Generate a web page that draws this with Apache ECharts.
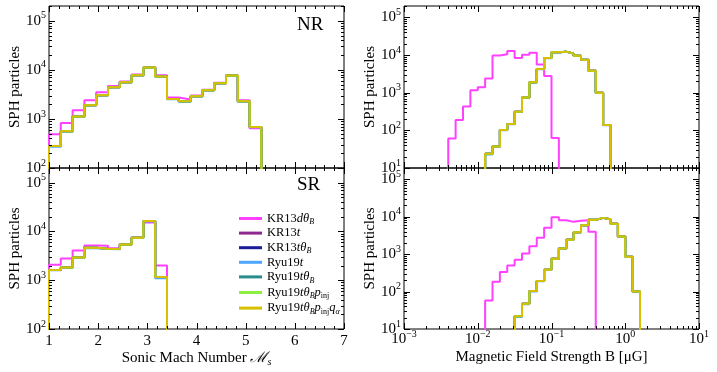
<!DOCTYPE html>
<html>
<head>
<meta charset="utf-8">
<script src="https://cdn.jsdelivr.net/npm/echarts@6/dist/echarts.min.js"></script>
<style>html,body{margin:0;padding:0;background:#fff}#main{width:717px;height:372px}</style>
</head>
<body>
<div id="main"></div>
<script>
// model names, same order as the legend
let modelNames = ['KR13dθB', 'KR13t', 'KR13tθB', 'Ryu19t', 'Ryu19tθB', 'Ryu19tθBpinj', 'Ryu19tθBpinjqα']
let modelColors = ['#ff40ff', '#8e2a8e', '#1c1c96', '#4da6ff', '#2a8c8c', '#8cf040', '#d8c000']

// Mach number histograms (bin edges, counts)
let machEdgesNR = [1, 1.24, 1.48, 1.72, 1.96, 2.2, 2.44, 2.68, 2.92, 3.16, 3.4, 3.64, 3.88, 4.12, 4.36, 4.6, 4.84, 5.08, 5.32]
let machNR_KR13d = [486, 828, 1503, 2404, 3500, 4710, 5800, 8000, 11200, 7780, 2730, 2490, 3000, 3950, 5450, 7700, 2400, 646]
let machNR_base = [281, 560, 1117, 1900, 3040, 4430, 5600, 7780, 11170, 7300, 2560, 2300, 2900, 3850, 5350, 7660, 2300, 687]
let machNR_Ryu19t = [272, 550, 1100, 1880, 3000, 4400, 5550, 7700, 11000, 7200, 2520, 2220, 2850, 3800, 5300, 7600, 2250, 680]

let machEdgesSR = [1, 1.24, 1.48, 1.72, 1.96, 2.2, 2.44, 2.68, 2.92, 3.16, 3.4]
let machSR_KR13d = [2065, 2785, 4070, 5150, 5080, 4550, 5410, 7420, 15300, 2000]
let machSR_base = [1630, 1820, 2925, 4610, 4400, 4350, 5410, 7420, 16300, 1170]
let machSR_Ryu19t = [1600, 1790, 2850, 4550, 4380, 4330, 5350, 7380, 16000, 1100]

// magnetic field histograms, edges given as log10(B)
let bLogEdgesNR_KR13d = [-2.4, -2.3, -2.2, -2.1, -2.0, -1.9, -1.8, -1.7, -1.6, -1.5, -1.4, -1.3, -1.2, -1.1, -1.0, -0.9]
let bNR_KR13d = [61, 189, 430, 1155, 1390, 2370, 9700, 10400, 12800, 8300, 10200, 11550, 5600, 2750, 63]
let bLogEdgesNR = [-1.9, -1.8, -1.7, -1.6, -1.5, -1.4, -1.3, -1.2, -1.1, -1.0, -0.9, -0.8, -0.7, -0.6, -0.5, -0.4, -0.3, -0.2]
let bNR_base = [24, 37, 102, 148, 310, 750, 1890, 4220, 8300, 11800, 12270, 10860, 9600, 7500, 3800, 1000, 139]
let bNR_Ryu19t = [23, 36, 100, 146, 305, 745, 1870, 4180, 8250, 11700, 12200, 10800, 9550, 7450, 3760, 985, 136]

let bLogEdgesSR_KR13d = [-1.9, -1.8, -1.7, -1.6, -1.5, -1.4, -1.3, -1.2, -1.1, -1.0, -0.9, -0.8, -0.7, -0.6, -0.5, -0.4]
let bSR_KR13d = [58, 183, 331, 499, 706, 1043, 1635, 2730, 5040, 9700, 8070, 7280, 7750, 8070, 3950]
let bLogEdgesSR = [-1.5, -1.4, -1.3, -1.2, -1.1, -1.0, -0.9, -0.8, -0.7, -0.6, -0.5, -0.4, -0.3, -0.2, -0.1, 0.0, 0.1, 0.2]
let bSR_base = [22, 47, 103, 191, 382, 750, 1416, 2410, 3860, 5930, 8240, 9300, 8580, 6440, 2960, 849, 101]
let bSR_Ryu19t = [21, 46, 101, 188, 376, 742, 1400, 2390, 3830, 5890, 8200, 9250, 8540, 6400, 2930, 840, 99]

let SERIF = '"Liberation Serif", "DejaVu Serif", serif'

function toB(logEdges) {
    return logEdges.map(function (e) { return Math.pow(10, e) })
}

// histogram outline in matplotlib 'step' style
function stepData(edges, counts) {
    let floor = 1
    let pts = [[edges[0], floor]]
    for (let i = 0; i < counts.length; i++) {
        pts.push([edges[i], counts[i]])
        pts.push([edges[i + 1], counts[i]])
    }
    pts.push([edges[counts.length], floor])
    return pts
}

function pickCounts(m, kr, base, ryu) {
    if (m === 0) return kr
    if (m === 3) return ryu
    return base
}

let panels = [
    {edges: [machEdgesNR, machEdgesNR], kr: machNR_KR13d, base: machNR_base, ryu: machNR_Ryu19t},
    {edges: [machEdgesSR, machEdgesSR], kr: machSR_KR13d, base: machSR_base, ryu: machSR_Ryu19t},
    {edges: [toB(bLogEdgesNR_KR13d), toB(bLogEdgesNR)], kr: bNR_KR13d, base: bNR_base, ryu: bNR_Ryu19t},
    {edges: [toB(bLogEdgesSR_KR13d), toB(bLogEdgesSR)], kr: bSR_KR13d, base: bSR_base, ryu: bSR_Ryu19t}
]

let series = []
panels.forEach(function (p, gi) {
    for (let m = 0; m < modelNames.length; m++) {
        let edges = m === 0 ? p.edges[0] : p.edges[1]
        series.push({
            name: modelNames[m],
            type: 'line',
            xAxisIndex: gi,
            yAxisIndex: gi,
            data: stepData(edges, pickCounts(m, p.kr, p.base, p.ryu)),
            showSymbol: false,
            symbol: 'none',
            clip: true,
            silent: true,
            lineStyle: {color: modelColors[m], width: 2},
            itemStyle: {color: modelColors[m]},
            z: 3 + m
        })
    }
})

let powRich = {
    sup: {fontFamily: SERIF, fontSize: 10, lineHeight: 10, verticalAlign: 'top', color: '#000'}
}
function powLabel(v) {
    let e = Math.log10(v)
    let r = Math.round(e)
    if (Math.abs(e - r) > 1e-6) return ''
    return '10{sup|' + (r < 0 ? '\u2212' + (-r) : r) + '}'
}

function yAxisCfg(gi, min) {
    return {
        type: 'log', gridIndex: gi, min: min, max: 2e5, logBase: 10,
        name: 'SPH particles', nameLocation: 'middle', nameRotate: 90, nameGap: 26,
        nameTextStyle: {fontFamily: SERIF, fontSize: 15, color: '#000'},
        axisLine: {show: false}, axisTick: {show: false}, splitLine: {show: false},
        axisLabel: {formatter: powLabel, fontFamily: SERIF, fontSize: 15, lineHeight: 20, color: '#000', margin: 3, rich: powRich}
    }
}

// legend labels: italics and subscripts as rich text
let legendText = {
    'KR13dθB': '{r|KR13}{i|dθ}{b|B}',
    'KR13t': '{r|KR13}{i|t}',
    'KR13tθB': '{r|KR13}{i|tθ}{b|B}',
    'Ryu19t': '{r|Ryu19}{i|t}',
    'Ryu19tθB': '{r|Ryu19}{i|tθ}{b|B}',
    'Ryu19tθBpinj': '{h6| }{r|Ryu19}{i|tθ}{b|B}{i|p}{u|inj}',
    'Ryu19tθBpinjqα': '{h7| }{r|Ryu19}{i|tθ}{b|B}{i|p}{u|inj}{i|q}{b|α}'
}

let option = {
    animation: false,
    backgroundColor: '#fff',
    grid: [
        {left: 49, top: 6, width: 295, height: 162, show: true, borderColor: '#000', borderWidth: 1, backgroundColor: 'transparent'},
        {left: 49, top: 168, width: 295, height: 161, show: true, borderColor: '#000', borderWidth: 1, backgroundColor: 'transparent'},
        {left: 404, top: 6, width: 295, height: 162, show: true, borderColor: '#000', borderWidth: 1, backgroundColor: 'transparent'},
        {left: 404, top: 168, width: 295, height: 161, show: true, borderColor: '#000', borderWidth: 1, backgroundColor: 'transparent'}
    ],
    xAxis: [
        {type: 'value', gridIndex: 0, min: 1, max: 7, interval: 1, axisLine: {show: false}, axisTick: {show: false},
            axisLabel: {show: false}, splitLine: {show: false}},
        {type: 'value', gridIndex: 1, min: 1, max: 7, interval: 1, axisLine: {show: false}, axisTick: {show: false},
            splitLine: {show: false},
            axisLabel: {fontFamily: SERIF, fontSize: 15, color: '#000', margin: 5},
            name: '{n|Sonic Mach Number }{m|\u2133}{s|s}', nameLocation: 'middle', nameGap: 20,
            nameTextStyle: {rich: {
                n: {fontFamily: SERIF, fontSize: 15, color: '#000', lineHeight: 18},
                m: {fontFamily: SERIF, fontSize: 15, fontStyle: 'italic', color: '#000', lineHeight: 18},
                s: {fontFamily: SERIF, fontSize: 10, fontStyle: 'italic', color: '#000', lineHeight: 12, verticalAlign: 'bottom'}
            }}},
        {type: 'log', gridIndex: 2, min: 1e-3, max: 10, logBase: 10, axisLine: {show: false}, axisTick: {show: false},
            axisLabel: {show: false}, splitLine: {show: false}},
        {type: 'log', gridIndex: 3, min: 1e-3, max: 10, logBase: 10, axisLine: {show: false}, axisTick: {show: false},
            splitLine: {show: false},
            axisLabel: {formatter: powLabel, fontFamily: SERIF, fontSize: 15, lineHeight: 20, color: '#000', margin: 0, rich: powRich},
            name: 'Magnetic Field Strength B [\u03bcG]', nameLocation: 'middle', nameGap: 20,
            nameTextStyle: {fontFamily: SERIF, fontSize: 15, color: '#000'}}
    ],
    yAxis: [yAxisCfg(0, 100), yAxisCfg(1, 100), yAxisCfg(2, 10), yAxisCfg(3, 10)],
    legend: {
        data: modelNames,
        orient: 'vertical',
        left: 239,
        top: 211,
        padding: 0,
        icon: 'rect',
        itemWidth: 23,
        itemHeight: 3,
        itemGap: 0.6,
        selectedMode: false,
        formatter: function (name) { return legendText[name] },
        textStyle: {
            rich: {
                r: {fontFamily: SERIF, fontSize: 12.5, color: '#000', lineHeight: 14},
                i: {fontFamily: SERIF, fontSize: 12.5, fontStyle: 'italic', color: '#000', lineHeight: 14},
                b: {fontFamily: SERIF, fontSize: 8, fontStyle: 'italic', color: '#000', lineHeight: 5, padding: [7, 0, 0, 0]},
                u: {fontFamily: SERIF, fontSize: 8, color: '#000', lineHeight: 5, padding: [7, 0, 0, 0]},
                h6: {fontSize: 1, lineHeight: 19},
                h7: {fontSize: 1, lineHeight: 23}
            }
        }
    },
    series: series
}

let chart = echarts.init(document.getElementById('main'), null, {renderer: 'canvas'})
chart.setOption(option)

// tick marks on all four sides (matplotlib direction='in'), placed through the axes' own scales
function linTicks(lo, hi, step, majorEvery) {
    let out = []
    let n = Math.round((hi - lo) / step)
    for (let i = 0; i <= n; i++) out.push([lo + i * step, i % majorEvery === 0])
    return out
}
function logTicks(min, max) {
    let out = []
    let e0 = Math.floor(Math.log10(min)), e1 = Math.ceil(Math.log10(max))
    for (let e = e0; e <= e1; e++) {
        for (let k = 1; k <= 9; k++) {
            let v = k * Math.pow(10, e)
            if (v >= min * 0.999 && v <= max * 1.001) out.push([v, k === 1])
        }
    }
    return out
}

let elements = []
function addTicks(gi, xTicks, yTicks, xMin, xMax, yMin, yMax) {
    let lb = chart.convertToPixel({gridIndex: gi}, [xMin, yMin])
    let rt = chart.convertToPixel({gridIndex: gi}, [xMax, yMax])
    let st = {stroke: '#000', lineWidth: 1}
    xTicks.forEach(function (t) {
        let x = Math.round(chart.convertToPixel({gridIndex: gi}, [t[0], yMin])[0]) + 0.5
        let len = t[1] ? 6 : 3
        elements.push({type: 'line', silent: true, z: 50, shape: {x1: x, y1: lb[1], x2: x, y2: lb[1] - len}, style: st})
        elements.push({type: 'line', silent: true, z: 50, shape: {x1: x, y1: rt[1], x2: x, y2: rt[1] + len}, style: st})
    })
    yTicks.forEach(function (t) {
        let y = Math.round(chart.convertToPixel({gridIndex: gi}, [xMin, t[0]])[1]) + 0.5
        let len = t[1] ? 6 : 3
        elements.push({type: 'line', silent: true, z: 50, shape: {x1: lb[0], y1: y, x2: lb[0] + len, y2: y}, style: st})
        elements.push({type: 'line', silent: true, z: 50, shape: {x1: rt[0], y1: y, x2: rt[0] - len, y2: y}, style: st})
    })
}
addTicks(0, linTicks(1, 7, 0.2, 5), logTicks(100, 2e5), 1, 7, 100, 2e5)
addTicks(1, linTicks(1, 7, 0.2, 5), logTicks(100, 2e5), 1, 7, 100, 2e5)
addTicks(2, logTicks(1e-3, 10), logTicks(10, 2e5), 1e-3, 10, 10, 2e5)
addTicks(3, logTicks(1e-3, 10), logTicks(10, 2e5), 1e-3, 10, 10, 2e5)

elements.push({type: 'text', left: 297, top: 16, style: {text: 'NR', font: '19px ' + SERIF, fill: '#000'}})
elements.push({type: 'text', left: 297, top: 176, style: {text: 'SR', font: '19px ' + SERIF, fill: '#000'}})

chart.setOption({graphic: {elements: elements}})
</script>
</body>
</html>
